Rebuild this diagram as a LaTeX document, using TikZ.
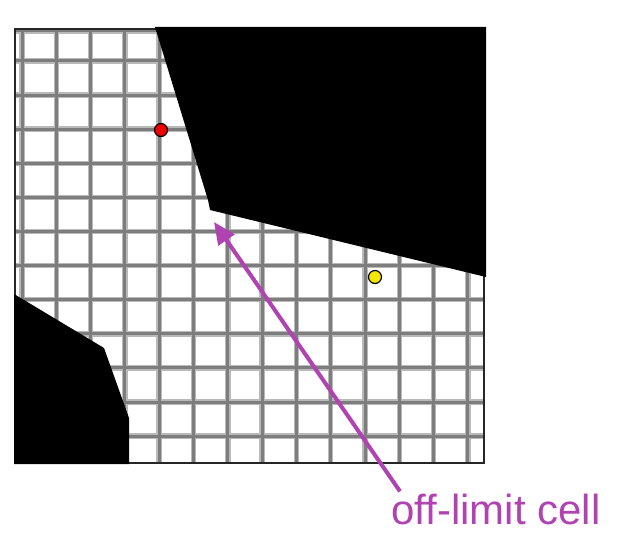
\documentclass[tikz,border=0pt]{standalone}
\usepackage{fontspec}
\setmainfont{Liberation Sans}[Ligatures=NoCommon]
\usepackage{tikz}
\usetikzlibrary{arrows.meta,positioning}
\definecolor{gridline}{RGB}{125,125,125}
\definecolor{gridhalo}{RGB}{185,185,185}
\definecolor{offlimit}{RGB}{176,66,178}
\definecolor{redpt}{RGB}{240,0,0}
\definecolor{yellowpt}{RGB}{245,230,0}

\begin{document}
\begin{tikzpicture}[
  x=1pt,y=-1pt,
  halo/.style={gridhalo,line width=5.5pt},
  cellline/.style={gridline,line width=3pt},
  obstacle/.style={fill=black,draw=none},
  waypoint/.style={circle,draw=black,line width=1.2pt,minimum size=13pt,inner sep=0pt},
  callout/.style={offlimit,line width=4pt,-{Triangle[length=22pt,width=19pt]}},
]
\useasboundingbox (0,0) rectangle (618,534);
% grid cells
\foreach \gx in {0,...,13} {
  \draw[halo] (22+34.3*\gx,29) -- (22+34.3*\gx,463);
}
\foreach \gy in {0,...,11} {
  \draw[halo] (15,61+34.1*\gy) -- (484,61+34.1*\gy);
}
\draw[halo] (15,31) -- (484,31);
\foreach \gx in {0,...,13} {
  \draw[cellline] (22+34.3*\gx,29) -- (22+34.3*\gx,463);
}
\foreach \gy in {0,...,11} {
  \draw[cellline] (15,61+34.1*\gy) -- (484,61+34.1*\gy);
}
\draw[cellline] (15,31) -- (484,31);
\draw[black!85,line width=1.5pt] (15,29) rectangle (484,463);
% obstacles
\fill[obstacle] (155,27) -- (486,27) -- (486,277) -- (210,210) -- (208,200) -- cycle;
\fill[obstacle] (14,294) -- (104,348) -- (129,418) -- (129,464) -- (14,464) -- cycle;
% start and goal
\node[waypoint,fill=redpt] (start) at (161,130) {};
\node[waypoint,fill=yellowpt] (goal) at (375,277) {};
% label
\coordinate (cell) at (214,222);
\node[anchor=base west,inner sep=0pt,text=offlimit,font=\fontsize{42}{50}\selectfont] (note) at (391,524) {off-limit cell};
\draw[callout] (note.north west) ++(9,-2) coordinate (from) (from) -- (cell);
\end{tikzpicture}
\end{document}
